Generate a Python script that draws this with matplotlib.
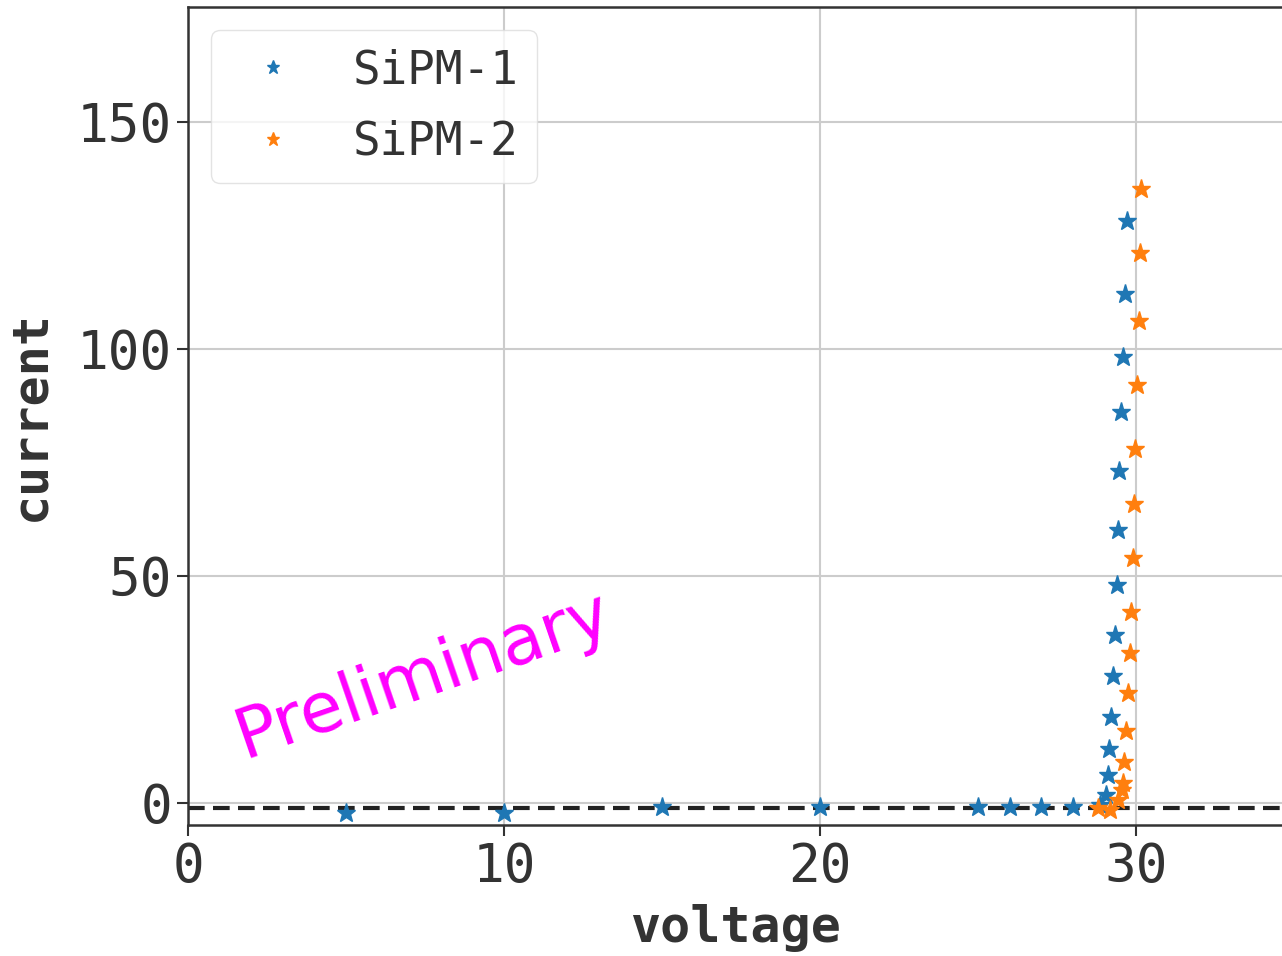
import matplotlib
matplotlib.use("Agg")
import matplotlib.pyplot as plt

# values
v1 = [5, 10, 15, 20, 25, 26, 27, 28, 28.85, 29.05, 29.1, 29.15, 29.2, 29.27, 29.33,
      29.4, 29.43, 29.46, 29.53, 29.59, 29.65, 29.72]
i1 = [-2.2, -2.2, -0.9, -0.9, -0.9, -0.9, -0.9, -0.9, -0.5, 1.8, 6.2, 11.9, 18.9,
      28.0, 37.0, 48.0, 60.1, 73.1, 86.1, 98.2, 112.1, 128.2]

v2 = [28.8, 29.18, 29.43, 29.55, 29.59, 29.62, 29.68, 29.75, 29.81, 29.84, 29.91,
      29.94, 29.97, 30.03, 30.09, 30.13, 30.16]
i2 = [-1.2, -1.6, 0.6, 2.8, 4.5, 9.0, 15.9, 24.2, 33.0, 42.1, 54.0, 65.9, 78.0,
      92.1, 106.2, 121.1, 135.2]

baseline = -1.1

fig = plt.figure(figsize=(12.82, 9.56), dpi=100)
ax = fig.add_axes([188 / 1282, 131 / 956, (1282 - 188) / 1282, (825 - 7) / 956])

ax.plot(v1, i1, "*", color="#1f77b4", markersize=14, label="SiPM-1", zorder=3)
ax.plot(v2, i2, "*", color="#ff7f0e", markersize=14, label="SiPM-2", zorder=3)
ax.axhline(baseline, color="#222222", linestyle="--", linewidth=3, dashes=(4, 2), zorder=2)

ax.set_xlim(0, 34.62)
ax.set_ylim(-4.85, 175.3)
ax.set_xticks([0, 10, 20, 30])
ax.set_yticks([0, 50, 100, 150])
ax.grid(True, color="#cccccc", linewidth=1.5)
ax.set_axisbelow(True)

for s in ["left", "top", "bottom"]:
    ax.spines[s].set_color("#333333")
    ax.spines[s].set_linewidth(1.8)
ax.spines["right"].set_visible(False)

ax.tick_params(labelsize=38, colors="#333333", length=8, width=1.5)
for lab in ax.get_xticklabels() + ax.get_yticklabels():
    lab.set_family("DejaVu Sans Mono")

ax.set_xlabel("voltage", fontsize=36, fontweight="bold", family="DejaVu Sans Mono",
              color="#333333", labelpad=8)
ax.set_ylabel("current", fontsize=36, fontweight="bold", family="DejaVu Sans Mono",
              color="#333333", labelpad=16)

leg = ax.legend(loc="upper left", prop={"family": "DejaVu Sans Mono", "size": 33},
                markerscale=0.7, handlelength=1.9, borderpad=0.4, labelspacing=0.58,
                borderaxespad=0, bbox_to_anchor=(0.021, 0.972),
                framealpha=0.8, edgecolor="#dddddd")
for t in leg.get_texts():
    t.set_color("#333333")

ax.text(1.75, 10, "Preliminary", color="#ff00ff", fontsize=50, rotation=19,
        rotation_mode="anchor", ha="left", va="baseline", family="DejaVu Sans")

fig.savefig("out.png", dpi=100)
